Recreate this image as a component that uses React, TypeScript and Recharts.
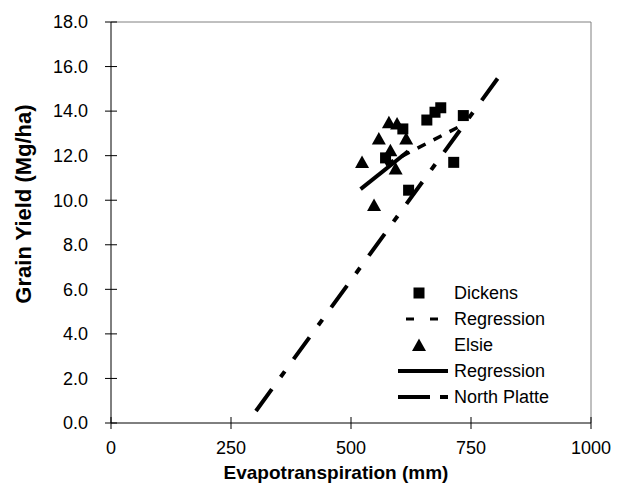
import { ReferenceLine, Scatter, ScatterChart, XAxis, YAxis } from 'recharts'

// Evapotranspiration (mm) vs grain yield (Mg/ha)
const dickensET = [572, 608, 620, 658, 675, 687, 714, 734]
const dickensYield = [11.9, 13.2, 10.45, 13.6, 13.95, 14.15, 11.7, 13.8]

const elsieET = [523, 548, 558, 579, 582, 593, 596, 615]
const elsieYield = [11.72, 9.78, 12.77, 13.5, 12.24, 11.42, 13.44, 12.77]

// fitted lines: end points only
const dickensFitET = [572, 734]
const dickensFitYield = [11.6, 13.4]
const elsieFitET = [520, 619]
const elsieFitYield = [10.5, 12.2]
const northPlatteET = [302, 810]
const northPlatteYield = [0.54, 15.6]

const xTicks = [0, 250, 500, 750, 1000]
const yTicks = [0, 2, 4, 6, 8, 10, 12, 14, 16, 18]

const legendRows = ['Dickens', 'Regression', 'Elsie', 'Regression', 'North Platte']

const zip = (xs: number[], ys: number[]) => xs.map((x, i) => ({ x, y: ys[i] }))

const dickens = zip(dickensET, dickensYield)
const elsie = zip(elsieET, elsieYield)
const dickensFit = zip(dickensFitET, dickensFitYield)
const elsieFit = zip(elsieFitET, elsieFitYield)
const northPlatte = zip(northPlatteET, northPlatteYield)

const FONT = '"Liberation Sans", Arial, sans-serif'
const DICKENS_DASH = '9 9'
const NP_DASH = '27 15 7 15'

const Square = (p: any) => <rect x={p.cx - 5.5} y={p.cy - 5.5} width={11} height={11} fill="#000" />
const Triangle = (p: any) => (
  <polygon
    points={`${p.cx},${p.cy - 6.5} ${p.cx - 7},${p.cy + 6} ${p.cx + 7},${p.cy + 6}`}
    fill="#000"
  />
)
const NoDot = () => <g />

const XTick = ({ x, y, payload }: any) => (
  <g>
    <line x1={x} x2={x} y1={y - 6} y2={y + 6} stroke="#000" />
    <text x={x} y={y + 25} dy="0.35em" textAnchor="middle" fontSize={18} fontFamily={FONT} fill="#000">
      {payload.value}
    </text>
  </g>
)

const YTick = ({ x, y, payload }: any) => (
  <g>
    <line x1={x - 6} x2={x + 6} y1={y} y2={y} stroke="#000" />
    <text x={x - 23} y={y} dy="0.35em" textAnchor="end" fontSize={18} fontFamily={FONT} fill="#000">
      {payload.value.toFixed(1)}
    </text>
  </g>
)

function Overlay() {
  const left = 398
  const top = 293
  const step = 26
  return (
    <svg width={626} height={491} style={{ position: 'absolute', left: 0, top: 0, pointerEvents: 'none' }}>
      <text
        x={336}
        y={472}
        dy="0.35em"
        textAnchor="middle"
        fontSize={19}
        fontWeight="bold"
        fontFamily={FONT}
      >
        Evapotranspiration (mm)
      </text>
      <text
        x={23}
        y={204}
        dy="0.35em"
        textAnchor="middle"
        fontSize={22}
        fontWeight="bold"
        fontFamily={FONT}
        transform="rotate(-90 23 204)"
      >
        Grain Yield (Mg/ha)
      </text>

      {/* legend */}
      <Square cx={left + 21} cy={top} />
      <line x1={left} x2={left + 50} y1={top + step} y2={top + step} stroke="#000" strokeWidth={3} strokeDasharray="8 16" strokeDashoffset={-8} />
      <Triangle cx={left + 21} cy={top + step * 2} />
      <line x1={left} x2={left + 50} y1={top + step * 3} y2={top + step * 3} stroke="#000" strokeWidth={4} />
      <line x1={left} x2={left + 50} y1={top + step * 4} y2={top + step * 4} stroke="#000" strokeWidth={4} strokeDasharray="32 10 8 10" />
      {legendRows.map((r, i) => (
        <text key={i} x={left + 56} y={top + step * i} dy="0.35em" fontSize={18} fontFamily={FONT}>
          {r}
        </text>
      ))}
    </svg>
  )
}

export default function App() {
  return (
    <div style={{ position: 'absolute', left: 0, top: 0, width: 626, height: 491, background: '#fff' }}>
      <ScatterChart width={626} height={491} margin={{ top: 22, right: 35, bottom: 0, left: 0 }}>
        <XAxis
          type="number"
          dataKey="x"
          domain={[0, 1000]}
          ticks={xTicks}
          height={68}
          axisLine={{ stroke: '#000' }}
          tickLine={false}
          tickSize={0}
          tickMargin={0}
          tick={<XTick />}
          allowDataOverflow
        />
        <YAxis
          type="number"
          dataKey="y"
          domain={[0, 18]}
          ticks={yTicks}
          width={111}
          axisLine={{ stroke: '#000' }}
          tickLine={false}
          tickSize={0}
          tickMargin={0}
          tick={<YTick />}
          allowDataOverflow
        />
        <ReferenceLine y={18} stroke="#808080" />
        <ReferenceLine x={1000} stroke="#808080" />
        <Scatter
          data={northPlatte}
          fill="#000"
          shape={NoDot}
          line={{ stroke: '#000', strokeWidth: 4, strokeDasharray: NP_DASH }}
          isAnimationActive={false}
        />
        <Scatter
          data={elsieFit}
          fill="#000"
          shape={NoDot}
          line={{ stroke: '#000', strokeWidth: 4 }}
          isAnimationActive={false}
        />
        <Scatter
          data={dickensFit}
          fill="#000"
          shape={NoDot}
          line={{ stroke: '#000', strokeWidth: 3.5, strokeDasharray: DICKENS_DASH }}
          isAnimationActive={false}
        />
        <Scatter data={dickens} fill="#000" shape={Square} isAnimationActive={false} />
        <Scatter data={elsie} fill="#000" shape={Triangle} isAnimationActive={false} />
      </ScatterChart>
      <Overlay />
    </div>
  )
}
